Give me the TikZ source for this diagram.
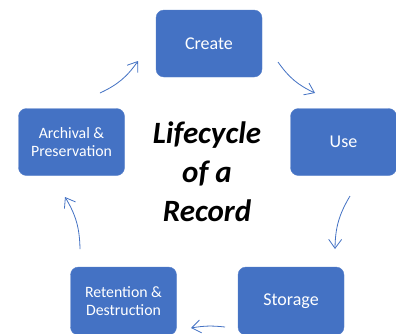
\documentclass[tikz,border=0pt]{standalone}
\usepackage{fontspec}
\setmainfont{Carlito}
\usetikzlibrary{arrows.meta}
\definecolor{oblue}{HTML}{4472C4}
\tikzset{
  box/.style={fill=oblue, draw=oblue!90!white, rounded corners=8pt, minimum width=106pt, minimum height=67pt, text=white, align=center, inner sep=0pt},
  smalltext/.style={font=\fontsize{15.8}{18}\selectfont},
  bigtext/.style={font=\fontsize{18}{22}\selectfont},
  arr/.style={draw=oblue, line width=0.8pt, -{Straight Barb[length=9pt,width=13pt,line width=0.8pt]}},
}
\begin{document}
\begin{tikzpicture}[x=1pt,y=-1pt]
\useasboundingbox (0,0) rectangle (396,333);
\fill[white] (0,0) rectangle (396,333);
\node[box, bigtext] (create) at (209,43.5) {Create};
\node[box, bigtext] (use) at (343.5,142) {Use};
\node[box, bigtext, minimum height=68pt] (storage) at (291,301) {Storage};
\node[box, smalltext, minimum height=68pt] (retention) at (123.5,301) {Retention \&\\Destruction};
\node[box, smalltext] (archival) at (71.5,142) {Archival \&\\Preservation};
\node[font=\fontsize{31}{39}\selectfont\bfseries\itshape, align=center] (title) at (207,172) {Lifecycle\\of a\\Record};
\coordinate (a1s) at (100,93);  \coordinate (a1e) at (138,61);
\coordinate (a2s) at (278,62);  \coordinate (a2e) at (315,93);
\coordinate (a3s) at (350,196); \coordinate (a3e) at (335,249);
\coordinate (a4s) at (225,327); \coordinate (a4e) at (191,328);
\coordinate (a5s) at (80,249);  \coordinate (a5e) at (65,197);
\draw[arr] (a1s) to[bend right=15] (a1e);
\draw[arr] (a2s) to[bend right=15] (a2e);
\draw[arr] (a3s) to[bend right=15] (a3e);
\draw[arr] (a4s) to[bend right=8] (a4e);
\draw[arr] (a5s) to[bend right=15] (a5e);
\end{tikzpicture}
\end{document}
